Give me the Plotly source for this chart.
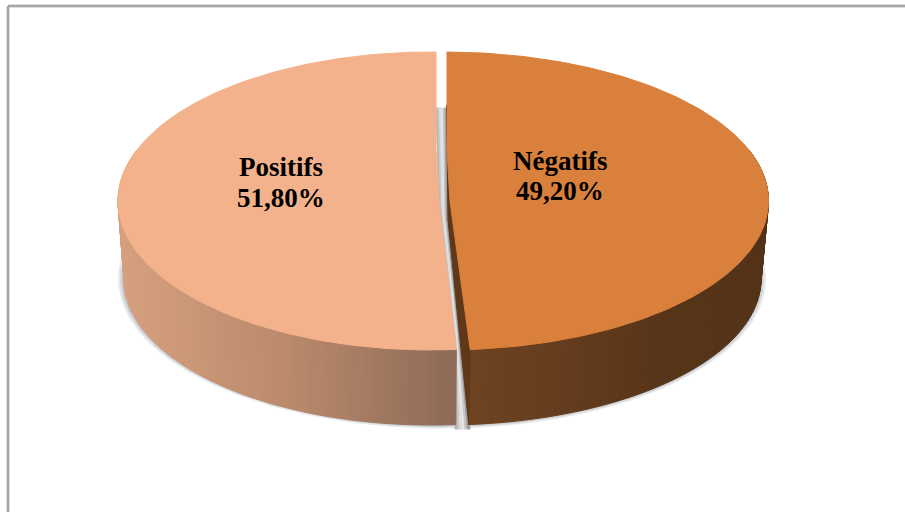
import numpy as np
import plotly.graph_objects as go

# Survey split shown as a tilted, slightly exploded pie
labels = ["Négatifs", "Positifs"]
values = [49.20, 51.80]

# Slice appearance
top_colors = ["#d9803c", "#f4b28c"]
wall_colors = [[(110, 67, 33), (100, 60, 29), (86, 52, 24), (84, 51, 24)],
               [(214, 160, 127), (186, 138, 108), (140, 106, 86)]]
cut_color = "#5e3818"

# Ellipse geometry per slice, in page pixels: cx, a for the top face, then the base
geom = [dict(cx=444, a=324.5, base_cx=443, base_a=318),
        dict(cx=431, a=313, base_cx=431, base_a=307)]
CY, B = 201, 149
BASE_CY, BASE_B = 279, 146
label_pos = [(560, 161, 191), (281, 167, 198)]

fractions = np.array(values) / sum(values)
split = 360 * fractions[0]


def top_pt(g, deg):
    t = np.radians(deg)
    return g["cx"] + g["a"] * np.sin(t), CY - B * np.cos(t)


def base_pt(g, deg):
    t = np.radians(deg)
    return g["base_cx"] + g["base_a"] * np.sin(t), BASE_CY - BASE_B * np.cos(t)


def lerp_color(stops, f):
    p = f * (len(stops) - 1)
    i = min(int(p), len(stops) - 2)
    w = p - i
    c = [round(stops[i][k] * (1 - w) + stops[i + 1][k] * w) for k in range(3)]
    return f"rgb({c[0]},{c[1]},{c[2]})"


def poly(xs, ys, color, line=True):
    return go.Scatter(x=list(xs) + [xs[0]], y=list(ys) + [ys[0]], mode="lines",
                      fill="toself", fillcolor=color,
                      line=dict(color=color if line else "rgba(0,0,0,0)", width=1 if line else 0),
                      hoverinfo="skip", showlegend=False)


fig = go.Figure()

# Soft shadow under the base of the pie
for grow in (6, 4, 2.5, 1):
    th = np.radians(np.linspace(60, 300, 160))
    sx = 442 + (318 + grow) * np.sin(th)
    sy = BASE_CY - (BASE_B + grow * 0.6) * np.cos(th)
    fig.add_trace(poly(list(sx), list(sy), "rgba(110,115,125,0.15)", line=False))

# Gap between the two slices, shaded like a cast shadow
gap_left = np.array([[436, 108], [439, 201], [456, 350], [455, 429]], float)
gap_right = np.array([[447, 108], [448, 220], [458, 320], [470, 429]], float)
gap_tones = ["#b4b4b4", "#c8c8c8", "#dedede", "#e4e4e4", "#c4c4c4", "#9c9c9c"]
for i, tone in enumerate(gap_tones):
    a0, a1 = i / len(gap_tones), (i + 1) / len(gap_tones)
    e0 = gap_left * (1 - a0) + gap_right * a0
    e1 = gap_left * (1 - a1) + gap_right * a1
    ring = np.vstack([e0, e1[::-1]])
    fig.add_trace(poly(list(ring[:, 0]), list(ring[:, 1]), tone))

# Curved outer walls, built from thin coloured strips
spans = [(70, split), (split, 290)]
for g, (a0, a1), stops in zip(geom, spans, wall_colors):
    edges = np.linspace(a0, a1, 90)
    x_lo = min(top_pt(g, e)[0] for e in edges)
    x_hi = max(top_pt(g, e)[0] for e in edges)
    for e0, e1 in zip(edges[:-1], edges[1:]):
        tx0, ty0 = top_pt(g, e0)
        tx1, ty1 = top_pt(g, e1)
        bx0, by0 = base_pt(g, e0)
        bx1, by1 = base_pt(g, e1)
        f = (0.5 * (tx0 + tx1) - x_lo) / (x_hi - x_lo)
        fig.add_trace(poly([tx0, tx1, bx1, bx0], [ty0, ty1, by1, by0], lerp_color(stops, f)))

# Cut face of the right-hand slice
tip_top = top_pt(geom[0], split)
tip_base = base_pt(geom[0], split)
fig.add_trace(poly([446.5, 448, 458, tip_base[0], tip_top[0], 455],
                   [105, 220, 320, tip_base[1], tip_top[1], 201], cut_color))

# Top faces, each closed through its own apex
for i, g in enumerate(geom):
    if i == 0:
        deg = np.linspace(np.degrees(np.arcsin(3 / g["a"])), split, 200)
        apex_x, apex_y = [450, 447], [201, 150]
    else:
        deg = np.linspace(split, 360 + np.degrees(np.arcsin(5 / g["a"])), 200)
        apex_x, apex_y = [436, 439], [150, 201]
    px, py = top_pt(g, deg)
    fig.add_trace(poly(apex_x + list(px), apex_y + list(py), top_colors[i]))

# Slice captions
for name, val, (lx, y1, y2) in zip(labels, values, label_pos):
    for txt, yy in ((name, y1), (f"{val:.2f}%".replace(".", ","), y2)):
        fig.add_annotation(x=lx, y=yy, text=f"<b>{txt}</b>", showarrow=False,
                           xanchor="center", yanchor="middle",
                           font=dict(family="Liberation Serif", size=27, color="#000000"))

# Frame around the chart area, running off the page on the right and bottom
for width, color in ((3, "#bdbdbd"), (1, "#8e8e8e")):
    fig.add_shape(type="line", x0=8, x1=905, y0=6, y1=6, line=dict(color=color, width=width))
    fig.add_shape(type="line", x0=8, x1=8, y0=6, y1=512, line=dict(color=color, width=width))

fig.update_xaxes(range=[0, 905], visible=False, fixedrange=True)
fig.update_yaxes(range=[512, 0], visible=False, fixedrange=True)
fig.update_layout(width=905, height=512, margin=dict(l=0, r=0, t=0, b=0),
                  paper_bgcolor="#ffffff", plot_bgcolor="#ffffff",
                  showlegend=False, hovermode=False)

fig.write_html("out.html", config={"displayModeBar": False})
